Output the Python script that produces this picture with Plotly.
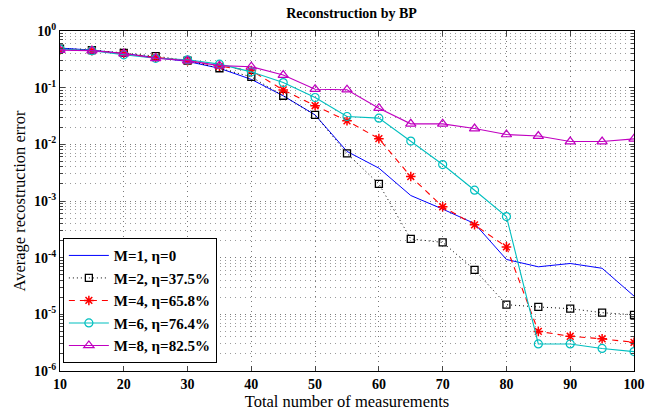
import plotly.graph_objects as go

x_meas = [10, 15, 20, 25, 30, 35, 40, 45, 50, 55, 60, 65, 70, 75, 80, 85, 90, 95, 100]

err_m1 = [0.50, 0.46, 0.40, 0.34, 0.29, 0.22, 0.14, 0.072, 0.033, 0.0075, 0.0038, 0.00125,
          0.00072, 0.00040, 9.3e-5, 6.9e-5, 7.9e-5, 6.5e-5, 2.1e-5]
err_m2 = [0.49, 0.46, 0.41, 0.36, 0.30, 0.22, 0.155, 0.072, 0.033, 0.0069, 0.0020, 0.000214,
          0.000186, 6.1e-5, 1.48e-5, 1.35e-5, 1.26e-5, 1.07e-5, 9.8e-6]
err_m4 = [0.47, 0.45, 0.40, 0.34, 0.30, 0.24, 0.20, 0.091, 0.048, 0.026, 0.0126, 0.0027,
          0.00079, 0.00038, 0.000155, 5.0e-6, 4.1e-6, 3.7e-6, 3.2e-6]
err_m6 = [0.48, 0.45, 0.38, 0.33, 0.31, 0.26, 0.19, 0.123, 0.067, 0.031, 0.029, 0.0114,
          0.0044, 0.00155, 0.00053, 3.0e-6, 3.0e-6, 2.5e-6, 2.2e-6]
err_m8 = [0.46, 0.45, 0.40, 0.33, 0.30, 0.245, 0.234, 0.167, 0.094, 0.092, 0.0435, 0.023,
          0.023, 0.019, 0.0149, 0.014, 0.0112, 0.0112, 0.0125]

names = ["M=1, η=0", "M=2, η=37.5%", "M=4, η=65.8%", "M=6, η=76.4%", "M=8, η=82.5%"]

x_ticks = [10, 20, 30, 40, 50, 60, 70, 80, 90, 100]
y_tickvals = [1, 1e-1, 1e-2, 1e-3, 1e-4, 1e-5, 1e-6]
y_ticktext = ["10<sup>0</sup>", "10<sup>-1</sup>", "10<sup>-2</sup>", "10<sup>-3</sup>",
              "10<sup>-4</sup>", "10<sup>-5</sup>", "10<sup>-6</sup>"]

FONT = "Liberation Serif"

fig = go.Figure()
fig.add_trace(go.Scatter(x=x_meas, y=err_m1, name=names[0], mode="lines",
                         line=dict(color="#0000ff", width=1)))
fig.add_trace(go.Scatter(x=x_meas, y=err_m2, name=names[1], mode="lines+markers",
                         line=dict(color="#000000", width=1, dash="1px,3px"),
                         marker=dict(symbol="square-open", size=7, color="#000000",
                                     line=dict(width=1.3))))
fig.add_trace(go.Scatter(x=x_meas, y=err_m4, name=names[2], mode="lines+markers",
                         line=dict(color="#ff0000", width=1.1, dash="6px,5px"),
                         marker=dict(symbol="asterisk-open", size=8, color="#ff0000",
                                     line=dict(width=1.5, color="#ff0000"))))
fig.add_trace(go.Scatter(x=x_meas, y=err_m6, name=names[3], mode="lines+markers",
                         line=dict(color="#00bfbf", width=1.1),
                         marker=dict(symbol="circle-open", size=8, color="#00bfbf",
                                     line=dict(width=1.2))))
fig.add_trace(go.Scatter(x=x_meas, y=err_m8, name=names[4], mode="lines+markers",
                         line=dict(color="#c000c0", width=1.1),
                         marker=dict(symbol="triangle-up-open", size=9, color="#c000c0",
                                     line=dict(width=1.2))))

fig.update_layout(
    width=657, height=415,
    margin=dict(l=60, r=21, t=31, b=39),
    plot_bgcolor="white", paper_bgcolor="white",
    font=dict(family=FONT, color="black", size=13),
    title=dict(text="<b>Reconstruction by BP</b>", x=0.535, xanchor="center",
               y=0.968, yanchor="middle", font=dict(family=FONT, size=14, color="black")),
    legend=dict(x=0.005, y=0.023, xanchor="left", yanchor="bottom",
                bordercolor="black", borderwidth=1, bgcolor="white",
                font=dict(family=FONT, size=15, weight="bold"),
                tracegroupgap=0, itemwidth=40),
    showlegend=True,
)

fig.update_xaxes(
    range=[10, 100], tickvals=x_ticks, ticks="inside", ticklen=5,
    mirror="ticks", showline=True, linecolor="black", linewidth=1,
    showgrid=True, gridcolor="#7a7a7a", griddash="1px,4px", gridwidth=1,
    tickfont=dict(family=FONT, size=14, weight="bold"),
    title=dict(text="Total number of measurements", font=dict(family=FONT, size=16.5), standoff=0),
    zeroline=False,
)
fig.update_yaxes(
    type="log", range=[-6, 0], tickvals=y_tickvals, ticktext=y_ticktext,
    ticks="inside", ticklen=5, mirror="ticks", showline=True, linecolor="black", linewidth=1,
    showgrid=True, gridcolor="#7a7a7a", griddash="1px,4px", gridwidth=1,
    minor=dict(ticks="inside", ticklen=3, showgrid=True, gridcolor="#9a9a9a",
               griddash="1px,4px", gridwidth=1, dtick="D1"),
    tickfont=dict(family=FONT, size=14, weight="bold"),
    title=dict(text="Average recostruction error", font=dict(family=FONT, size=16.5), standoff=4),
    zeroline=False,
)

fig.write_html("out.html")
